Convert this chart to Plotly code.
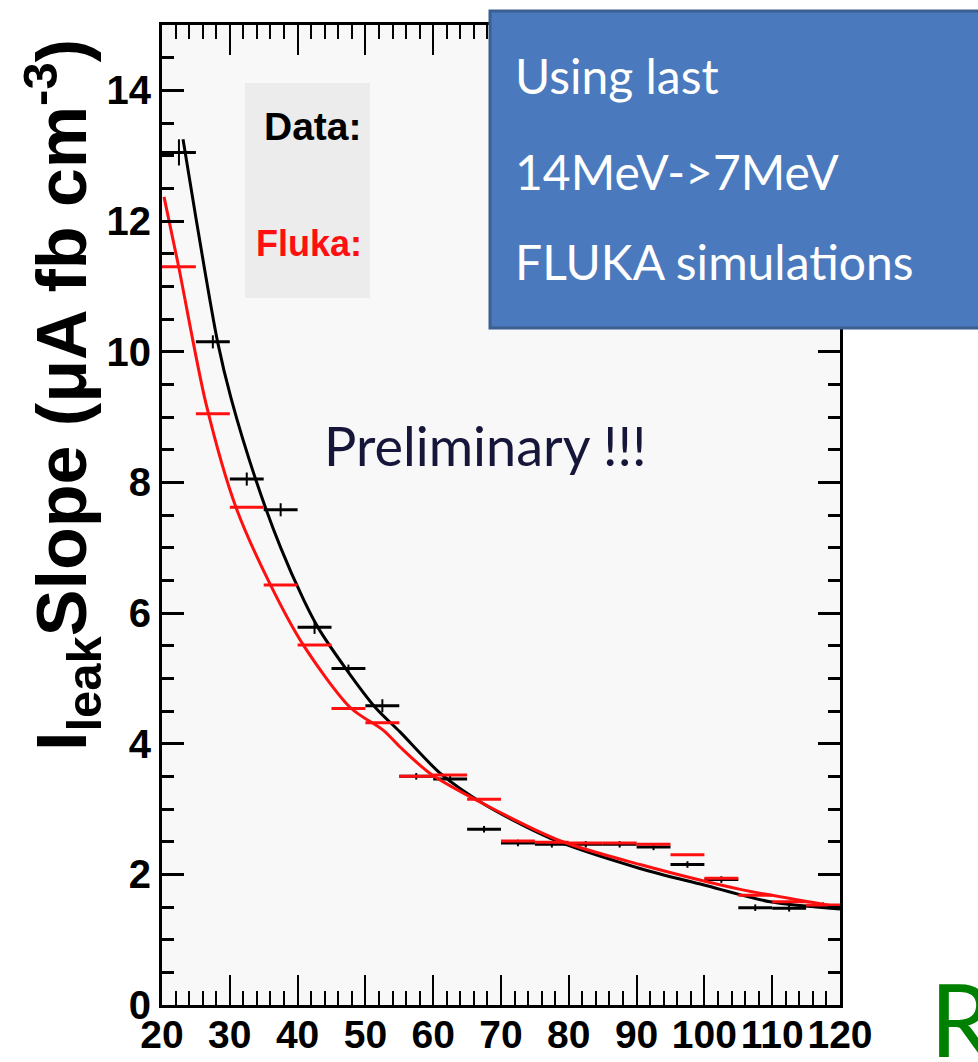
import plotly.graph_objects as go

# Radial bins (cm) and leakage-current slope per bin
bin_centers = [22.5, 27.5, 32.5, 37.5, 42.5, 47.5, 52.5, 57.5, 62.5, 67.5,
               72.5, 77.5, 82.5, 87.5, 92.5, 97.5, 102.5, 107.5, 112.5, 117.5]
bin_half_width = [2.5] * 20

data_slope = [13.05, 10.15, 8.05, 7.58, 5.78, 5.15, 4.58, 3.50, 3.46, 2.69,
              2.48, 2.46, 2.46, 2.46, 2.42, 2.15, 1.92, 1.49, 1.48, 1.52]
data_err = [0.20, 0.10, 0.10, 0.10, 0.10, 0.06, 0.10, 0.05, 0.05, 0.05,
            0.05, 0.05, 0.05, 0.05, 0.05, 0.05, 0.05, 0.05, 0.05, 0.05]

fluka_slope = [11.30, 9.05, 7.62, 6.43, 5.51, 4.54, 4.32, 3.50, 3.52, 3.15,
               2.51, 2.49, 2.48, 2.48, 2.46, 2.30, 1.94, 1.68, 1.58, 1.53]

# Fitted curves, sampled along their drawn path
data_fit_x = [23.1, 25.0, 28.2, 30.2, 33.8, 37.5, 40.9, 43.0, 47.1, 51.5,
              55.1, 61.1, 67.4, 77.3, 90.5, 99.8, 109.7, 120.0]
data_fit_y = [13.25, 12.05, 10.15, 9.28, 8.05, 7.00, 6.20, 5.78, 5.15, 4.55,
              4.18, 3.54, 3.08, 2.55, 2.09, 1.84, 1.58, 1.47]

fluka_fit_x = [20.3, 22.4, 26.5, 30.9, 36.0, 40.9, 47.8, 52.7, 55.1, 59.6,
               67.4, 78.8, 90.5, 105.3, 120.0]
fluka_fit_y = [12.37, 11.33, 9.20, 7.62, 6.43, 5.50, 4.55, 4.20, 3.95, 3.54,
               3.08, 2.51, 2.15, 1.77, 1.50]

x_ticks = [20, 30, 40, 50, 60, 70, 80, 90, 100, 110, 120]
y_ticks = [0, 2, 4, 6, 8, 10, 12, 14]

W, H = 978, 1062
ML, MR, MT, MB = 162, 138, 25, 57
PW, PH = W - ML - MR, H - MT - MB


def px(xp):
    return (xp - ML) / PW


def py(yp):
    return (H - MB - yp) / PH


SANS = "Liberation Sans, Arial, sans-serif"
HUMAN = "Lato, Carlito, Calibri, sans-serif"
BLACK = "#000000"
RED = "#ff1010"

fig = go.Figure()

fig.add_trace(go.Scatter(
    x=bin_centers, y=data_slope, mode="markers",
    marker=dict(size=2, color=BLACK),
    error_x=dict(type="data", array=bin_half_width, width=0, thickness=3, color=BLACK),
    error_y=dict(type="data", array=data_err, width=0, thickness=2, color=BLACK),
    showlegend=False,
))
fig.add_trace(go.Scatter(
    x=data_fit_x, y=data_fit_y, mode="lines",
    line=dict(color=BLACK, width=3, shape="spline", smoothing=0.8),
    showlegend=False,
))
fig.add_trace(go.Scatter(
    x=bin_centers, y=fluka_slope, mode="markers",
    marker=dict(size=2, color=RED),
    error_x=dict(type="data", array=bin_half_width, width=0, thickness=3, color=RED),
    showlegend=False,
))
fig.add_trace(go.Scatter(
    x=fluka_fit_x, y=fluka_fit_y, mode="lines",
    line=dict(color=RED, width=3, shape="spline", smoothing=0.8),
    showlegend=False,
))

axis_common = dict(
    showline=True, linecolor=BLACK, linewidth=3, mirror="allticks",
    ticks="inside", tickcolor=BLACK, showgrid=False, zeroline=False,
    automargin=False, tickangle=0,
)

fig.update_xaxes(
    range=[20, 120], tickvals=x_ticks, ticktext=[str(v) for v in x_ticks],
    ticklen=30, tickwidth=2, ticklabelstandoff=-7,
    tickfont=dict(family=SANS, size=39, color=BLACK, weight="bold"),
    minor=dict(dtick=2, ticklen=14, tickwidth=2, ticks="inside", tickcolor=BLACK, showgrid=False),
    **axis_common,
)
fig.update_yaxes(
    range=[0, 15], tickvals=y_ticks, ticktext=[str(v) for v in y_ticks],
    ticklen=22, tickwidth=3,
    tickfont=dict(family=SANS, size=40, color=BLACK, weight="bold"),
    minor=dict(dtick=0.5, ticklen=12, tickwidth=3, ticks="inside", tickcolor=BLACK, showgrid=False),
    **axis_common,
)

shapes = [
    # legend panel
    dict(type="rect", xref="paper", yref="paper",
         x0=px(245), x1=px(370), y0=py(298), y1=py(83),
         fillcolor="#ececec", line=dict(width=0), layer="below"),
    # note box
    dict(type="rect", xref="paper", yref="paper",
         x0=px(490), x1=px(990), y0=py(328), y1=py(11),
         fillcolor="#4a7abd", line=dict(color="#3b5f90", width=3), layer="above"),
]

annotations = [
    dict(text="<b>Data:</b>", xref="paper", yref="paper", x=px(262), y=py(126),
         xanchor="left", yanchor="middle", showarrow=False,
         font=dict(family=SANS, size=39, color=BLACK)),
    dict(text="<b>Fluka:</b>", xref="paper", yref="paper", x=px(254), y=py(243),
         xanchor="left", yanchor="middle", showarrow=False,
         font=dict(family=SANS, size=36, color=RED)),
    dict(text="Preliminary !!!", xref="paper", yref="paper", x=px(485), y=py(445),
         xanchor="center", yanchor="middle", showarrow=False,
         font=dict(family=HUMAN, size=54, color="#16163a")),
    dict(text="Using last", xref="paper", yref="paper", x=px(513), y=py(76),
         xanchor="left", yanchor="middle", showarrow=False,
         font=dict(family=HUMAN, size=48, color="white")),
    dict(text="14MeV->7MeV", xref="paper", yref="paper", x=px(513), y=py(171),
         xanchor="left", yanchor="middle", showarrow=False,
         font=dict(family=HUMAN, size=48, color="white")),
    dict(text="FLUKA simulations", xref="paper", yref="paper", x=px(513), y=py(261),
         xanchor="left", yanchor="middle", showarrow=False,
         font=dict(family=HUMAN, size=48, color="white")),
    dict(text="<b>I<sub>leak</sub>Slope (μA fb cm<sup>-3</sup>)</b>", xref="paper", yref="paper",
         x=px(62), y=py(395), xanchor="center", yanchor="middle", textangle=-90,
         showarrow=False,
         font=dict(family=SANS, size=70, color=BLACK)),
    dict(text="R", xref="paper", yref="paper", x=px(928), y=py(1018),
         xanchor="left", yanchor="middle", showarrow=False,
         font=dict(family=HUMAN, size=100, color="#008000")),
]

fig.update_layout(
    width=W, height=H,
    margin=dict(l=ML, r=MR, t=MT, b=MB, autoexpand=False),
    paper_bgcolor="white", plot_bgcolor="#f8f8f8",
    shapes=shapes, annotations=annotations,
)

fig.write_html("out.html")
